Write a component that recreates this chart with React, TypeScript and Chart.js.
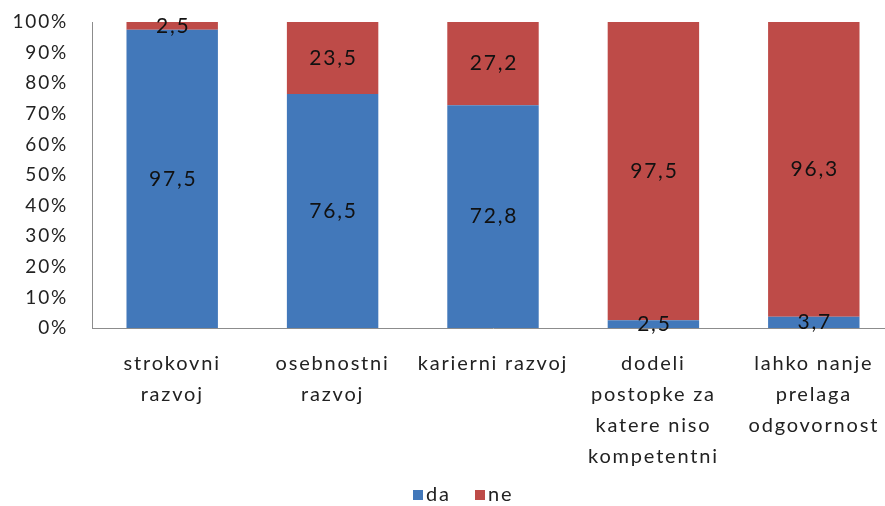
import React, { useEffect, useRef } from "react";
import { Chart, registerables } from "chart.js";

Chart.register(...registerables);

const categories: string[][] = [
  ["strokovni", "razvoj"],
  ["osebnostni", "razvoj"],
  ["karierni razvoj"],
  ["dodeli", "postopke za", "katere niso", "kompetentni"],
  ["lahko nanje", "prelaga", "odgovornost"],
];
const daValues = [97.5, 76.5, 72.8, 2.5, 3.7];
const neValues = [2.5, 23.5, 27.2, 97.5, 96.3];
const seriesNames = ["da", "ne"];
const yTickLabels = ["0%", "10%", "20%", "30%", "40%", "50%", "60%", "70%", "80%", "90%", "100%"];

const BLUE = "#4278ba";
const RED = "#be4b48";
const FONT = "Lato, 'Open Sans', sans-serif";
const TEXT = "#222222";
const SPACING = "1.8px";

const spacingPlugin = {
  id: "spacing",
  beforeUpdate(chart: any) { chart.ctx.letterSpacing = SPACING; },
  beforeLayout(chart: any) { chart.ctx.letterSpacing = SPACING; },
  beforeDraw(chart: any) { chart.ctx.letterSpacing = SPACING; },
};

const dataLabelPlugin = {
  id: "dataLabels",
  afterDatasetsDraw(chart: any) {
    const ctx = chart.ctx;
    ctx.save();
    ctx.letterSpacing = SPACING;
    ctx.font = `21px ${FONT}`;
    ctx.fillStyle = "#111111";
    ctx.textAlign = "center";
    ctx.textBaseline = "middle";
    chart.data.datasets.forEach((ds: any, di: number) => {
      const meta = chart.getDatasetMeta(di);
      meta.data.forEach((el: any, i: number) => {
        const v = ds.data[i];
        const y = (el.y + el.base) / 2;
        ctx.fillText(String(v).replace(".", ","), el.x + 1, y);
      });
    });
    ctx.restore();
  },
};

const legendPlugin = {
  id: "customLegend",
  afterDraw(chart: any) {
    const ctx = chart.ctx;
    ctx.save();
    ctx.letterSpacing = SPACING;
    ctx.font = `20px ${FONT}`;
    ctx.textBaseline = "middle";
    ctx.textAlign = "left";
    const colors = [BLUE, RED];
    const y = 495;
    let x = 413;
    seriesNames.forEach((name, i) => {
      ctx.fillStyle = colors[i];
      ctx.fillRect(x, y - 5, 10, 10);
      ctx.fillStyle = TEXT;
      ctx.fillText(name, x + 13, y);
      x += 62;
    });
    ctx.restore();
  },
};

function zeroPad(scale: any) {
  scale.paddingTop = 0;
  scale.paddingBottom = 0;
  scale.paddingLeft = 0;
  scale.paddingRight = 0;
}

export default function App() {
  const ref = useRef<HTMLCanvasElement | null>(null);
  useEffect(() => {
    document.documentElement.style.overflow = "hidden";
    document.body.style.overflow = "hidden";
    const chart = new Chart(ref.current as HTMLCanvasElement, {
      type: "bar",
      data: {
        labels: categories,
        datasets: [
          { label: seriesNames[0], data: daValues, backgroundColor: BLUE, borderWidth: 0 },
          { label: seriesNames[1], data: neValues, backgroundColor: RED, borderWidth: 0 },
        ],
      },
      options: {
        animation: false,
        responsive: false,
        maintainAspectRatio: false,
        layout: { padding: { top: 22, left: 0, right: 0, bottom: 0 } },
        datasets: { bar: { categoryPercentage: 1, barPercentage: 0.57 } },
        plugins: { legend: { display: false }, tooltip: { enabled: false } },
        scales: {
          x: {
            stacked: true,
            grid: { display: false, drawTicks: false },
            border: { display: true, color: "#8c8c8c", width: 1 },
            ticks: {
              color: TEXT,
              font: { family: FONT, size: 20, lineHeight: 1.55 },
              padding: 20,
              maxRotation: 0,
              autoSkip: false,
            },
            afterFit(scale: any) { scale.height = 178; zeroPad(scale); },
          },
          y: {
            stacked: true,
            min: 0,
            max: 100,
            grid: { display: false, drawTicks: false },
            border: { display: true, color: "#8c8c8c", width: 1 },
            ticks: {
              stepSize: 10,
              color: TEXT,
              padding: 24,
              font: { family: FONT, size: 19 },
              callback: (v: any) => yTickLabels[Math.round(Number(v) / 10)],
            },
            afterFit(scale: any) { scale.width = 92; zeroPad(scale); },
          },
        },
      },
      plugins: [spacingPlugin, dataLabelPlugin, legendPlugin],
    } as any);
    return () => chart.destroy();
  }, []);
  return (
    <div style={{ position: "absolute", left: 0, top: 0, width: 885, height: 506, overflow: "hidden" }}>
      <canvas ref={ref} width={894} height={506} style={{ width: 894, height: 506, display: "block" }} />
    </div>
  );
}
